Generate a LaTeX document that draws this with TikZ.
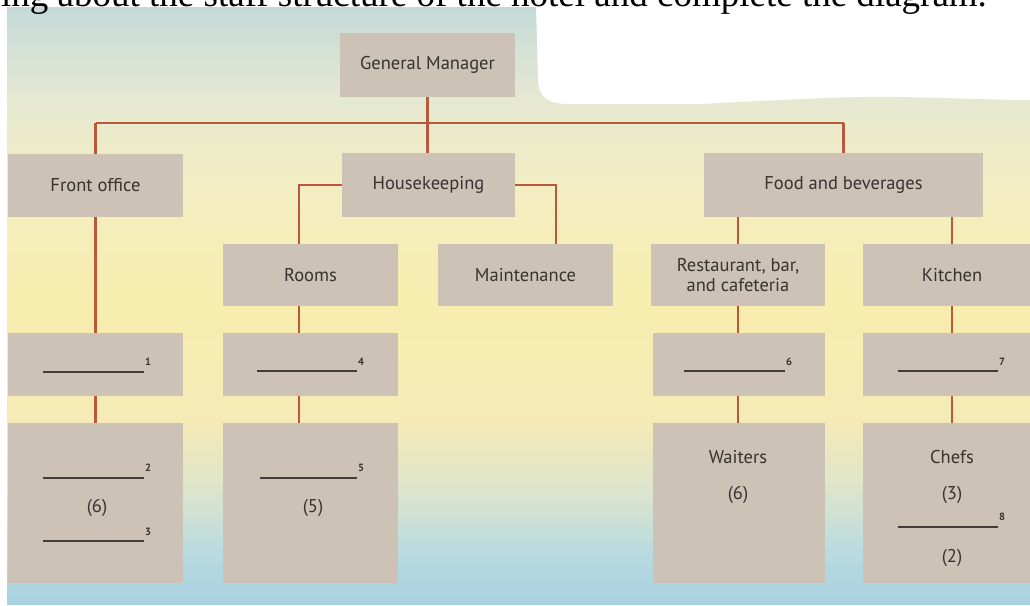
\documentclass[tikz,border=0pt]{standalone}
\usepackage{fontspec}
\setmainfont{Liberation Serif}
\newfontfamily\boxfont{PT Sans}
\definecolor{bgA}{HTML}{C4DAD8}
\definecolor{bgB}{HTML}{E6E9D2}
\definecolor{bgC}{HTML}{F4EEC0}
\definecolor{bgD}{HTML}{F7EDAE}
\definecolor{bgE}{HTML}{F6EAB6}
\definecolor{bgF}{HTML}{DCE5CC}
\definecolor{bgG}{HTML}{BADBE0}
\definecolor{bgH}{HTML}{A8D1E0}
\definecolor{boxc}{HTML}{CCC2B6}
\definecolor{linec}{HTML}{B9583A}
\definecolor{txt}{HTML}{38332F}
\definecolor{blk}{HTML}{433D39}
\pgfdeclareverticalshading{bgsh}{100bp}{color(0bp)=(bgH); color(25bp)=(bgH); color(29.6bp)=(bgG); color(34.6bp)=(bgF); color(40.5bp)=(bgE); color(50.5bp)=(bgD); color(58.9bp)=(bgC); color(67.2bp)=(bgB); color(75bp)=(bgA); color(100bp)=(bgA)}
\tikzset{
  orgbox/.style={fill=boxc, inner sep=0pt, outer sep=0pt, text=txt, align=center,
    font=\boxfont\fontsize{18.5}{21}\selectfont},
  conn/.style={draw=linec, line width=2.6pt},
  blank/.style={draw=blk, line width=1.7pt},
  supn/.style={inner sep=0pt, text=txt, font=\boxfont\bfseries\fontsize{10.5}{11}\selectfont},
  txtn/.style={inner sep=0pt, text=txt, font=\boxfont\fontsize{18.5}{21}\selectfont}
}
\begin{document}
\begin{tikzpicture}[x=1pt,y=-1pt]
\useasboundingbox (0,0) rectangle (1030,605);
\clip (0,0) rectangle (1030,605);
% background sheet
\shade[shading=bgsh] (7,7) -- (536,7) -- (538,80) .. controls (539,98) and (548,103) .. (565,104)
  -- (700,104) .. controls (780,100) and (850,96) .. (900,97)
  .. controls (950,98) and (1000,100) .. (1030,100) -- (1030,605) -- (7,605) -- cycle;
% top text line
\node[anchor=base west, inner sep=0pt, font=\fontsize{37}{40}\selectfont] (head) at (1,6)
  {ing about the staff structure of the hotel and complete the diagram.};
% boxes
\node[orgbox, minimum width=175pt, minimum height=64pt] (gm) at (427.5,65) {General Manager};
\node[orgbox, minimum width=175pt, minimum height=63pt] (fo) at (95.5,185.5) {Front office};
\node[orgbox, minimum width=173pt, minimum height=64pt] (hk) at (428.5,185) {Housekeeping};
\node[orgbox, minimum width=279pt, minimum height=64pt] (fb) at (843.5,185) {Food and beverages};
\node[orgbox, minimum width=175pt, minimum height=62pt] (rooms) at (310.5,275) {Rooms};
\node[orgbox, minimum width=175pt, minimum height=62pt] (maint) at (525.5,275) {Maintenance};
\node[orgbox, minimum width=174pt, minimum height=62pt, font=\boxfont\fontsize{18.5}{20}\selectfont] (rest) at (738,275) {Restaurant, bar,\\and cafeteria};
\node[orgbox, minimum width=178pt, minimum height=62pt] (kit) at (952,275) {Kitchen};
\node[orgbox, minimum width=175pt, minimum height=63pt] (b1) at (95.5,364.5) {};
\node[orgbox, minimum width=175pt, minimum height=63pt] (b4) at (310.5,364.5) {};
\node[orgbox, minimum width=172pt, minimum height=63pt] (b6) at (739,364.5) {};
\node[orgbox, minimum width=178pt, minimum height=63pt] (b7) at (952,364.5) {};
\node[orgbox, minimum width=175pt, minimum height=160pt] (b2) at (95.5,503) {};
\node[orgbox, minimum width=175pt, minimum height=160pt] (b5) at (310.5,503) {};
\node[orgbox, minimum width=172pt, minimum height=160pt] (wt) at (739,503) {};
\node[orgbox, minimum width=178pt, minimum height=160pt] (ch) at (952,503) {};
% connectors
\coordinate (hl) at (0,123);
\coordinate (rx) at (299,0);
\coordinate (mx) at (556,0);
\draw[conn] (gm.south) -- (gm.south |- hk.north);
\draw[conn] (fo.north |- hl) -- (fb.north |- hl);
\draw[conn] (fo.north |- hl) -- (fo.north);
\draw[conn] (fb.north |- hl) -- (fb.north);
\draw[conn] (hk.west) -- (hk.west -| rx) -- (rx |- rooms.north);
\draw[conn] (hk.east) -- (hk.east -| mx) -- (mx |- maint.north);
\draw[conn] (rest.north |- fb.south) -- (rest.north);
\draw[conn] (kit.north |- fb.south) -- (kit.north);
\draw[conn] (fo.south) -- (b1.north);
\draw[conn] (b1.south) -- (b2.north);
\draw[conn] (rx |- rooms.south) -- (rx |- b4.north);
\draw[conn] (rx |- b4.south) -- (rx |- b5.north);
\draw[conn] (rest.south) -- (rest.south |- b6.north);
\draw[conn] (rest.south |- b6.south) -- (rest.south |- wt.north);
\draw[conn] (kit.south) -- (b7.north);
\draw[conn] (b7.south) -- (ch.north);
% blanks and texts inside boxes
\draw[blank] (43,372) -- (144,372);
\node[supn] (s1) at (148,362) {1};
\draw[blank] (257,371) -- (357,371);
\node[supn] (s4) at (361,362) {4};
\draw[blank] (43,478) -- (144,478);
\node[supn] (s2) at (148,468) {2};
\node[txtn] (n6) at (97,508) {(6)};
\draw[blank] (43,541) -- (144,541);
\node[supn] (s3) at (148,532) {3};
\draw[blank] (260,478) -- (357,478);
\node[supn] (s5) at (361,468) {5};
\node[txtn] (n5) at (313,508) {(5)};
\draw[blank] (684,371) -- (785,371);
\node[supn] (s6) at (789,362) {6};
\draw[blank] (898,371) -- (998,371);
\node[supn] (s7) at (1002,362) {7};
\node[txtn] (wtt) at (738,457) {Waiters};
\node[txtn] (wtn) at (738,495) {(6)};
\node[txtn] (cht) at (952,457) {Chefs};
\node[txtn] (chn) at (952,495) {(3)};
\draw[blank] (898,527) -- (998,527);
\node[supn] (s8) at (1002,517) {8};
\node[txtn] (chn2) at (952,558) {(2)};
\end{tikzpicture}
\end{document}
